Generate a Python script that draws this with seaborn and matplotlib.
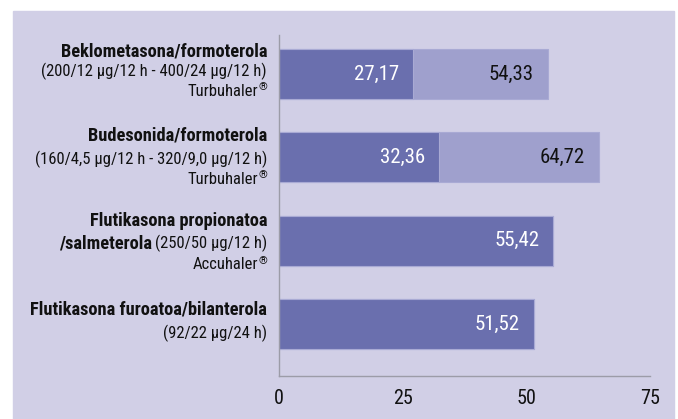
import matplotlib
matplotlib.use("Agg")
import matplotlib.pyplot as plt
import seaborn as sns
import pandas as pd
from matplotlib.patches import Rectangle

# data
drugs = ["Beklometasona/formoterola", "Budesonida/formoterola",
         "Flutikasona propionatoa", "Flutikasona furoatoa/bilanterola"]
low_dose = [27.17, 32.36, 55.42, 51.52]
high_dose = [54.33, 64.72, 55.42, 51.52]
has_high = [True, True, False, False]
x_ticks = [0, 25, 50, 75]

DARK = "#6a6fae"
LIGHT = "#9fa0cd"
EDGE = "#a9aad4"
BG = "#d1cfe6"
INK = "#111111"
FONT = ["Liberation Sans Narrow", "Roboto Condensed", "DejaVu Sans"]

sns.set_theme(style="white")
plt.rcParams["font.family"] = FONT

fig = plt.figure(figsize=(6.78, 4.19), dpi=100, facecolor="white")
fig.patches.append(Rectangle((13 / 678, 0), (674 - 13) / 678, 408 / 419,
                             transform=fig.transFigure, color=BG, zorder=-10))
ax = fig.add_axes([279 / 678, 43 / 419, 371 / 678, 341 / 419])
ax.set_facecolor("none")

df = pd.DataFrame({"drug": drugs, "low": low_dose, "high": high_dose})
sns.barplot(data=df, x="high", y="drug", orient="h", color=LIGHT, saturation=1,
            width=0.6, edgecolor=EDGE, linewidth=0.8, ax=ax)
sns.barplot(data=df, x="low", y="drug", orient="h", color=DARK, saturation=1,
            width=0.6, edgecolor=EDGE, linewidth=0.8, ax=ax)

ax.set_xlim(0, 75)
ax.set_ylim(3.624, -0.468)
ax.set_xticks(x_ticks)
ax.set_xticklabels([str(t) for t in x_ticks], fontsize=14.5, color=INK)
ax.tick_params(axis="x", length=0, pad=9)
ax.set_yticks([])
ax.set_xlabel("")
ax.set_ylabel("")
for s in ["top", "right"]:
    ax.spines[s].set_visible(False)
for s in ["left", "bottom"]:
    ax.spines[s].set_color("#9c9ca8")
    ax.spines[s].set_linewidth(1.0)

def fmt(v):
    return f"{v:.2f}".replace(".", ",")

# value labels inside bar ends
for i in range(len(drugs)):
    ax.annotate(fmt(low_dose[i]), xy=(low_dose[i], i), xytext=(-10, 0),
                textcoords="offset points", ha="right", va="center",
                color="white", fontsize=15)
    if has_high[i]:
        ax.annotate(fmt(high_dose[i]), xy=(high_dose[i], i), xytext=(-10, 0),
                    textcoords="offset points", ha="right", va="center",
                    color=INK, fontsize=15)

# category labels: (text, bold, pixel offset from bar centre)
label_lines = [
    [("Beklometasona/formoterola", True, -22),
     ("(200/12 µg/12 h - 400/24 µg/12 h)", False, -3),
     ("Turbuhaler®", False, 17)],
    [("Budesonida/formoterola", True, -22),
     ("(160/4,5 µg/12 h - 320/9,0 µg/12 h)", False, 2),
     ("Turbuhaler®", False, 22)],
    [("Flutikasona propionatoa", True, -20),
     ("(250/50 µg/12 h)", False, 3),
     ("Accuhaler®", False, 24)],
    [("Flutikasona furoatoa/bilanterola", True, -14),
     ("(92/22 µg/24 h)", False, 9)],
]
px = 0.72
for i, lines in enumerate(label_lines):
    for text, bold, dy in lines:
        if text.endswith("®"):
            # small raised registered mark, then the name left of it
            mark = ax.annotate("®", xy=(0, i), xycoords=("axes fraction", "data"),
                               xytext=(-12 * px, (-dy + 4) * px),
                               textcoords="offset points", ha="right",
                               va="center", color=INK, fontsize=8,
                               annotation_clip=False)
            ax.annotate(text[:-1], xy=(0, i), xycoords=(mark, "data"),
                        xytext=(0, -dy * px), textcoords="offset points",
                        ha="right", va="center", color=INK, fontsize=12,
                        annotation_clip=False)
            continue
        t = ax.annotate(text, xy=(0, i), xycoords=("axes fraction", "data"),
                        xytext=(-12 * px, -dy * px), textcoords="offset points",
                        ha="right", va="center", color=INK,
                        fontsize=13.2 if bold else 12,
                        fontweight="bold" if bold else "normal",
                        annotation_clip=False)
        if text == "(250/50 µg/12 h)":
            ax.annotate("/salmeterola", xy=(0, i), xycoords=(t, "data"),
                        xytext=(-3 * px, -dy * px), textcoords="offset points",
                        ha="right", va="center", color=INK,
                        fontsize=13.2, fontweight="bold", annotation_clip=False)

fig.savefig("out.png", dpi=100, facecolor="white")
